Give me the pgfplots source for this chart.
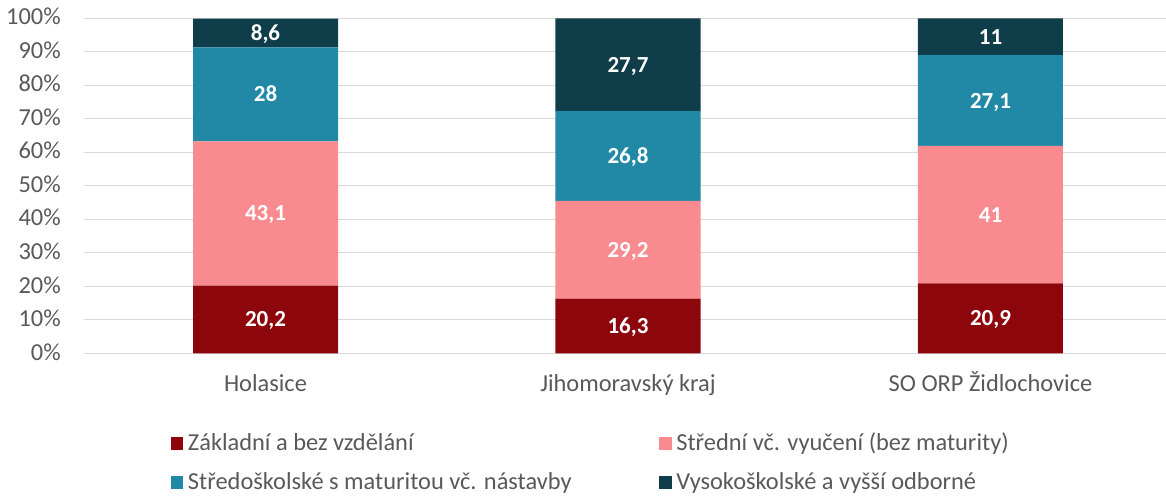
\documentclass[border=0pt]{standalone}
\usepackage{fontspec}
\setmainfont{Carlito}
\usepackage{pgfplots}
\usepackage{pgfplotstable}
\pgfplotsset{compat=1.18}
\definecolor{cA}{HTML}{8C060C}
\definecolor{cB}{HTML}{F98A8F}
\definecolor{cC}{HTML}{2189A6}
\definecolor{cD}{HTML}{0F3D4A}
\definecolor{textgray}{HTML}{595959}
\definecolor{gridgray}{HTML}{D9D9D9}
\pgfplotstableread{
x a b c d
0 20.2 43.1 28 8.6
1 16.3 29.2 26.8 27.7
2 20.9 41 27.1 11
}\data
\pgfplotstableread{
x y lab
0 10.1 20,2
0 41.75 43,1
0 77.3 28
0 95.6 8,6
1 8.15 16,3
1 30.9 29,2
1 58.9 26,8
1 86.15 27,7
2 10.45 20,9
2 41.4 41
2 75.45 27,1
2 94.5 11
}\labels
\begin{document}
\fontsize{18.3}{22}\selectfont
\begin{tikzpicture}
\begin{axis}[
  at={(0,0)}, anchor=south west,
  scale only axis, width=815.6pt, height=251.25pt,
  ybar stacked, bar width=108.75pt,
  xmin=-0.5, xmax=2.5, ymin=0, ymax=100,
  xtick={0,1,2},
  xticklabels={Holasice, Jihomoravský kraj, SO ORP Židlochovice},
  ytick={0,10,...,100},
  yticklabel={\pgfmathprintnumber{\tick}\%},
  /pgf/number format/assume math mode=true,
  ymajorgrids, grid style={draw=gridgray, line width=0.9pt},
  axis line style={draw=none}, major tick length=0pt,
  tick label style={text=textgray},
  xticklabel style={anchor=base, yshift=-28.8pt},
  yticklabel style={anchor=base east, inner sep=0pt, xshift=-17.4pt, yshift=-5pt},
  legend columns=2,
  legend style={draw=none, fill=none, inner sep=0pt, outer sep=0pt,
    at={(0.07945,-0.2408)}, anchor=north west,
    cells={anchor=base west},
    nodes={inner sep=0pt, text height=12pt, text depth=4pt, text=textgray},
    row sep=13.25pt, column sep=0pt},
  legend image code/.code={
    \fill[#1] (0pt,0pt) rectangle (9.5pt,9.5pt);
    \path (13pt,0pt);
  },
]
\addplot[fill=cA, draw=none] table[x=x, y=a] {\data};
\addlegendentry{\makebox[353.25pt][l]{Základní a bez vzdělání}}
\addplot[fill=cB, draw=none] table[x=x, y=b] {\data};
\addlegendentry{Střední vč. vyučení (bez maturity)}
\addplot[fill=cC, draw=none] table[x=x, y=c] {\data};
\addlegendentry{\makebox[353.25pt][l]{Středoškolské s maturitou vč. nástavby}}
\addplot[fill=cD, draw=none] table[x=x, y=d] {\data};
\addlegendentry{Vysokoškolské a vyšší odborné}
\end{axis}
\begin{axis}[
  at={(0,0)}, anchor=south west,
  scale only axis, width=815.6pt, height=251.25pt,
  xmin=-0.5, xmax=2.5, ymin=0, ymax=100,
  hide axis,
]
\addplot[draw=none, mark=none, nodes near coords, point meta=explicit symbolic,
  every node near coord/.append style={anchor=base, yshift=-5.6pt, text=white, font=\fontsize{17.25}{20}\selectfont\bfseries}]
  table[x=x, y=y, meta=lab] {\labels};
\end{axis}
\pgfresetboundingbox
\path[use as bounding box] (-63.19pt,-106.3pt) rectangle (811.3pt,265pt);
\end{tikzpicture}
\end{document}
